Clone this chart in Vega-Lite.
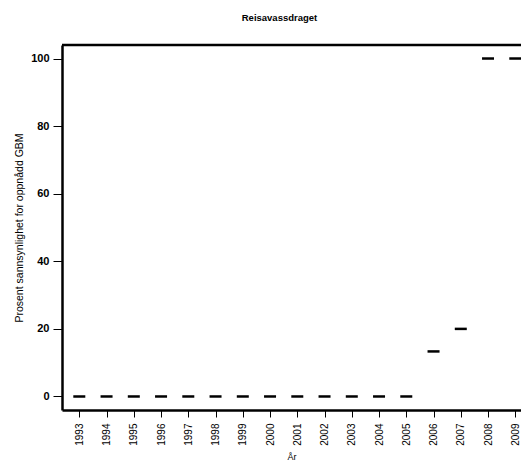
{
  "$schema": "https://vega.github.io/schema/vega-lite/v6.json",
  "width": 459,
  "height": 365,
  "autosize": "none",
  "padding": {"left": 62, "top": 45, "right": 0, "bottom": 52},
  "background": "white",
  "title": {"text": "Reisavassdraget", "fontSize": 9.5, "fontWeight": "bold", "font": "Liberation Sans", "anchor": "middle", "dx": -12, "offset": 21, "color": "black"},
  "config": {"view": {"stroke": null}, "font": "Liberation Sans"},
  "data": {"values": [
    {"year": 1993, "value": 0}, {"year": 1994, "value": 0}, {"year": 1995, "value": 0},
    {"year": 1996, "value": 0}, {"year": 1997, "value": 0}, {"year": 1998, "value": 0},
    {"year": 1999, "value": 0}, {"year": 2000, "value": 0}, {"year": 2001, "value": 0},
    {"year": 2002, "value": 0}, {"year": 2003, "value": 0}, {"year": 2004, "value": 0},
    {"year": 2005, "value": 0}, {"year": 2006, "value": 13.33}, {"year": 2007, "value": 20},
    {"year": 2008, "value": 100}, {"year": 2009, "value": 100}
  ]},
  "layer": [
    {
      "mark": {"type": "tick", "orient": "horizontal", "size": 12, "thickness": 2.5, "color": "black", "opacity": 1, "clip": true},
      "encoding": {
        "x": {"field": "year", "type": "quantitative",
          "scale": {"domain": [1992.365, 2009.21], "nice": false, "zero": false},
          "axis": {"values": [1993,1994,1995,1996,1997,1998,1999,2000,2001,2002,2003,2004,2005,2006,2007,2008,2009],
            "format": "d", "labelAngle": 270, "labelAlign": "right", "labelBaseline": "middle", "labelFontSize": 10, "labelColor": "black",
            "grid": false, "tickSize": 7, "tickColor": "black", "tickWidth": 1, "domainColor": "black", "domainWidth": 2.5,
            "labelPadding": 6, "title": "År", "titleFontSize": 9, "titleFontWeight": "normal", "titleColor": "black", "titlePadding": 7, "labelOverlap": false, "labelFlush": false}},
        "y": {"field": "value", "type": "quantitative",
          "scale": {"domain": [-4, 104], "nice": false, "zero": false},
          "axis": {"values": [0, 20, 40, 60, 80, 100], "labelFontSize": 11, "labelFontWeight": "bold", "labelColor": "black",
            "grid": false, "tickSize": 9, "tickColor": "black", "tickWidth": 1, "domainColor": "black", "domainWidth": 2.5,
            "labelPadding": 4, "title": "Prosent sannsynlighet for oppnådd GBM", "titleFontSize": 10.5, "titleFontWeight": "normal", "titleColor": "black", "titlePadding": 6}}
      }
    },
    {
      "data": {"values": [{}]},
      "mark": {"type": "rule", "color": "black", "strokeWidth": 2.5},
      "encoding": {"y": {"datum": 104}}
    }
  ]
}
